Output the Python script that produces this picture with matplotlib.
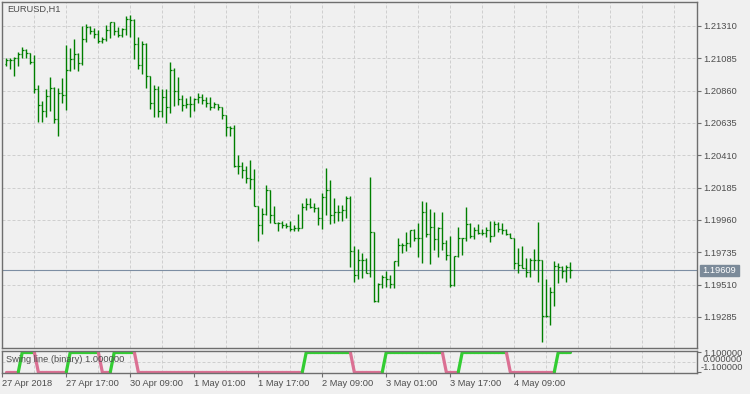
import numpy as np
import matplotlib
matplotlib.use('Agg')
import matplotlib.pyplot as plt
from matplotlib.collections import LineCollection
from matplotlib.patches import Rectangle

# EURUSD H1 bars, 27 Apr 2018 02:00 .. 4 May 2018 23:00
opens = [1.21044, 1.21073, 1.21073, 1.21085, 1.21115, 1.21143, 1.21120, 1.21062, 1.20874, 1.20758,
         1.20718, 1.20821, 1.20876, 1.20663, 1.20842, 1.20828, 1.21002, 1.21078, 1.21115, 1.21050,
         1.21220, 1.21301, 1.21277, 1.21252, 1.21208, 1.21220, 1.21282, 1.21336, 1.21273, 1.21245,
         1.21289, 1.21359, 1.21352, 1.21185, 1.21039, 1.21185, 1.20960, 1.20772, 1.20870, 1.20718,
         1.20814, 1.20748, 1.21002, 1.20858, 1.20800, 1.20760, 1.20769, 1.20769, 1.20800, 1.20814,
         1.20795, 1.20772, 1.20746, 1.20767, 1.20744, 1.20691, 1.20607, 1.20600, 1.20338, 1.20336,
         1.20306, 1.20250, 1.20245, 1.20057, 1.19923, 1.19999, 1.20169, 1.19995, 1.19937, 1.19937,
         1.19925, 1.19920, 1.19895, 1.19906, 1.19906, 1.20052, 1.20071, 1.20052, 1.20043, 1.19972,
         1.20118, 1.20169, 1.19995, 1.20018, 1.20018, 1.20029, 1.20111, 1.19746, 1.19577, 1.19681,
         1.19681, 1.19589, 1.19878, 1.19398, 1.19514, 1.19561, 1.19549, 1.19514, 1.19674, 1.19786,
         1.19786, 1.19802, 1.19890, 1.19837, 1.19837, 1.20013, 1.19862, 1.19909, 1.19826, 1.19902,
         1.19798, 1.19716, 1.19507, 1.19709, 1.19836, 1.19832, 1.19930, 1.19848, 1.19890, 1.19871,
         1.19871, 1.19890, 1.19848, 1.19930, 1.19895, 1.19893, 1.19860, 1.19837, 1.19658, 1.19647,
         1.19628, 1.19600, 1.19681, 1.19681, 1.19681, 1.19294, 1.19292, 1.19457, 1.19640, 1.19631,
         1.19605, 1.19631]
highs = [1.21089, 1.21089, 1.21094, 1.21127, 1.21162, 1.21150, 1.21120, 1.21108, 1.20897, 1.20788,
         1.20870, 1.20955, 1.20888, 1.20879, 1.20948, 1.21180, 1.21159, 1.21220, 1.21120, 1.21310,
         1.21322, 1.21310, 1.21294, 1.21282, 1.21231, 1.21317, 1.21336, 1.21336, 1.21301, 1.21294,
         1.21382, 1.21389, 1.21359, 1.21231, 1.21206, 1.21190, 1.20960, 1.20897, 1.20894, 1.20872,
         1.20870, 1.21060, 1.21020, 1.20955, 1.20830, 1.20811, 1.20823, 1.20807, 1.20842, 1.20835,
         1.20818, 1.20816, 1.20783, 1.20765, 1.20748, 1.20691, 1.20614, 1.20621, 1.20412, 1.20361,
         1.20336, 1.20377, 1.20315, 1.20057, 1.20041, 1.20203, 1.20169, 1.20057, 1.19948, 1.19953,
         1.19937, 1.19953, 1.19925, 1.19999, 1.20076, 1.20111, 1.20115, 1.20076, 1.20052, 1.20146,
         1.20324, 1.20238, 1.20111, 1.20064, 1.20064, 1.20127, 1.20127, 1.19779, 1.19756, 1.19728,
         1.19693, 1.20257, 1.19878, 1.19523, 1.19577, 1.19605, 1.19577, 1.19674, 1.19837, 1.19802,
         1.19874, 1.19890, 1.19897, 1.19937, 1.20092, 1.20083, 1.20034, 1.20013, 1.19913, 1.20013,
         1.19821, 1.19848, 1.19709, 1.19909, 1.19837, 1.20048, 1.19941, 1.19909, 1.19930, 1.19895,
         1.19909, 1.19955, 1.19955, 1.19944, 1.19937, 1.19895, 1.19871, 1.19837, 1.19763, 1.19779,
         1.19693, 1.19693, 1.19756, 1.19948, 1.19681, 1.19547, 1.19496, 1.19677, 1.19663, 1.19640,
         1.19647, 1.19670]
lows = [1.21034, 1.21009, 1.20964, 1.21034, 1.21085, 1.21089, 1.21044, 1.20842, 1.20644, 1.20644,
        1.20679, 1.20718, 1.20633, 1.20544, 1.20772, 1.20728, 1.21000, 1.21009, 1.20997, 1.21041,
        1.21201, 1.21252, 1.21224, 1.21190, 1.21194, 1.21206, 1.21224, 1.21247, 1.21236, 1.21231,
        1.21247, 1.21236, 1.21082, 1.21011, 1.20974, 1.20881, 1.20730, 1.20675, 1.20675, 1.20677,
        1.20637, 1.20707, 1.20753, 1.20760, 1.20720, 1.20737, 1.20675, 1.20718, 1.20776, 1.20767,
        1.20744, 1.20725, 1.20737, 1.20725, 1.20661, 1.20544, 1.20544, 1.20329, 1.20280, 1.20254,
        1.20219, 1.20173, 1.20057, 1.19816, 1.19860, 1.19995, 1.19937, 1.19937, 1.19885, 1.19906,
        1.19906, 1.19885, 1.19885, 1.19885, 1.19906, 1.20029, 1.20045, 1.20018, 1.19925, 1.19897,
        1.19995, 1.19930, 1.19937, 1.19953, 1.19953, 1.19972, 1.19635, 1.19530, 1.19547, 1.19554,
        1.19589, 1.19565, 1.19391, 1.19391, 1.19484, 1.19491, 1.19484, 1.19484, 1.19640, 1.19728,
        1.19744, 1.19770, 1.19816, 1.19704, 1.19663, 1.19844, 1.19652, 1.19751, 1.19704, 1.19751,
        1.19681, 1.19496, 1.19500, 1.19704, 1.19716, 1.19816, 1.19837, 1.19826, 1.19860, 1.19855,
        1.19839, 1.19809, 1.19845, 1.19878, 1.19860, 1.19855, 1.19832, 1.19617, 1.19589, 1.19628,
        1.19565, 1.19561, 1.19612, 1.19530, 1.19113, 1.19287, 1.19229, 1.19361, 1.19523, 1.19554,
        1.19530, 1.19554]
closes = [1.21073, 1.21073, 1.21085, 1.21115, 1.21143, 1.21120, 1.21062, 1.20874, 1.20758, 1.20718,
          1.20821, 1.20876, 1.20663, 1.20842, 1.20828, 1.21002, 1.21078, 1.21115, 1.21050, 1.21220,
          1.21301, 1.21277, 1.21252, 1.21208, 1.21220, 1.21282, 1.21336, 1.21273, 1.21245, 1.21289,
          1.21359, 1.21352, 1.21185, 1.21039, 1.21185, 1.20960, 1.20772, 1.20870, 1.20718, 1.20814,
          1.20748, 1.21002, 1.20858, 1.20800, 1.20760, 1.20769, 1.20769, 1.20800, 1.20814, 1.20795,
          1.20772, 1.20746, 1.20767, 1.20744, 1.20691, 1.20607, 1.20600, 1.20338, 1.20336, 1.20306,
          1.20250, 1.20245, 1.20057, 1.19923, 1.19999, 1.20169, 1.19995, 1.19937, 1.19937, 1.19925,
          1.19920, 1.19895, 1.19906, 1.19906, 1.20052, 1.20071, 1.20052, 1.20043, 1.19972, 1.20118,
          1.20169, 1.19995, 1.20018, 1.20018, 1.20029, 1.20111, 1.19746, 1.19577, 1.19681, 1.19681,
          1.19589, 1.19878, 1.19398, 1.19514, 1.19561, 1.19549, 1.19514, 1.19674, 1.19786, 1.19786,
          1.19802, 1.19890, 1.19837, 1.19837, 1.20013, 1.19862, 1.19909, 1.19826, 1.19902, 1.19798,
          1.19716, 1.19507, 1.19709, 1.19836, 1.19832, 1.19930, 1.19848, 1.19890, 1.19871, 1.19871,
          1.19890, 1.19848, 1.19930, 1.19895, 1.19893, 1.19860, 1.19837, 1.19658, 1.19647, 1.19628,
          1.19600, 1.19681, 1.19681, 1.19681, 1.19294, 1.19292, 1.19457, 1.19640, 1.19631, 1.19605,
          1.19631, 1.19609]

# Swing line (binary): +1 / -1 per bar
swing = [-1, -1, -1, -1, 1, 1, 1, 1, -1, -1, -1, -1, -1, -1, -1, -1, 1, 1, 1, 1,
         1, 1, 1, 1, -1, -1, -1, 1, 1, 1, 1, 1, 1, -1, -1, -1, -1, -1, -1, -1,
         -1, -1, -1, -1, -1, -1, -1, -1, -1, -1, -1, -1, -1, -1, -1, -1, -1, -1, -1, -1,
         -1, -1, -1, -1, -1, -1, -1, -1, -1, -1, -1, -1, -1, -1, -1, 1, 1, 1, 1, 1,
         1, 1, 1, 1, 1, 1, 1, -1, -1, -1, -1, -1, -1, -1, -1, 1, 1, 1, 1, 1,
         1, 1, 1, 1, 1, 1, 1, 1, 1, 1, -1, -1, -1, -1, 1, 1, 1, 1, 1, 1,
         1, 1, 1, 1, 1, 1, -1, -1, -1, -1, -1, -1, -1, -1, -1, -1, -1, -1, 1, 1,
         1, 1]

price_ticks = [1.19285, 1.19510, 1.19735, 1.19960, 1.20185, 1.20410, 1.20635, 1.20860, 1.21085, 1.21310]
time_pos = [-1, 15, 31, 47, 63, 79, 95, 111, 127]
time_labels = ['27 Apr 2018', '27 Apr 17:00', '30 Apr 09:00', '1 May 01:00', '1 May 17:00',
               '2 May 09:00', '3 May 01:00', '3 May 17:00', '4 May 09:00']

BG = '#f0f0f0'
GRID = '#cfcfcf'
SPINE = '#6e6e6e'
TXT = '#4d4d4d'
GREEN = '#007f00'
LIME = '#32cd32'
PINK = '#db7093'
PLINE = '#7d8ea3'
FS = 6.7

plt.rcParams['font.family'] = ['Liberation Sans', 'DejaVu Sans']

W, H = 750, 394
fig = plt.figure(figsize=(7.5, 3.94), dpi=100, facecolor=BG)


def box(x0, y0, x1, y1):
    return [x0 / W, 1 - y1 / H, (x1 - x0) / W, (y1 - y0) / H]


ax = fig.add_axes(box(2, 2, 697, 348), facecolor=BG)
axs = fig.add_axes(box(2, 351, 697, 373), facecolor=BG)
xlim = (-1.075, 172.675)
grid_x = np.arange(7, 172, 8)
dash = (0, (3, 2))

# price bars
x = np.arange(len(closes))
ax.vlines(x, lows, highs, color=GREEN, lw=1.0)
ax.hlines(opens, x - 0.45, x, color=GREEN, lw=0.9)
ax.hlines(closes, x, x + 0.45, color=GREEN, lw=0.9)
ax.axhline(closes[-1], color=PLINE, lw=0.8, zorder=1)

ax.set_xlim(*xlim)
ax.set_ylim(1.19069, 1.21477)
ax.set_xticks(grid_x)
ax.set_yticks(price_ticks)
ax.set_yticklabels(['%.5f' % v for v in price_ticks])
ax.yaxis.tick_right()
ax.tick_params(axis='x', length=0, labelbottom=False)
ax.tick_params(axis='y', length=2.9, width=0.8, color=SPINE, labelsize=FS, labelcolor=TXT, pad=1.5)
ax.grid(True, color=GRID, lw=0.72, linestyle=dash, zorder=0)
ax.set_axisbelow(True)

# swing line sub-window
pts = np.column_stack([x, swing])
segs = np.stack([pts[:-1], pts[1:]], axis=1)
cols = [LIME if v > 0 else PINK for v in swing[1:]]
axs.add_collection(LineCollection(segs, colors=cols, linewidths=2.3, capstyle='round'))
axs.set_xlim(*xlim)
axs.set_ylim(-1.1, 1.1)
axs.set_yticks([-1, 1])
axs.set_yticklabels([])
axs.yaxis.tick_right()
axs.tick_params(axis='y', length=2.9, width=0.8, color=SPINE)
axs.set_xticks(time_pos)
axs.set_xticklabels(time_labels, ha='left')
axs.set_xticks(grid_x, minor=True)
axs.xaxis.remove_overlapping_locs = False
axs.tick_params(axis='x', which='major', length=3, width=0.8, color=SPINE,
                labelsize=FS, labelcolor=TXT, pad=1.5)
axs.tick_params(axis='x', which='minor', length=0)
axs.grid(True, which='minor', axis='x', color=GRID, lw=0.72, linestyle=dash, zorder=0)
axs.axhline(0, color=GRID, lw=0.72, linestyle=dash, zorder=0)
axs.set_axisbelow(True)

for a in (ax, axs):
    for s in a.spines.values():
        s.set_color(SPINE)
        s.set_linewidth(1.0)

fig.text(7 / W, 1 - 9.5 / H, 'EURUSD,H1', fontsize=FS, color=TXT, va='center', ha='left')
fig.text(6 / W, 1 - 360 / H, 'Swing line (binary) 1.000000', fontsize=FS, color=TXT,
         va='center', ha='left')
# scale labels of the sub-window sit on top of each other, as in the terminal
fig.text(703 / W, 1 - 354 / H, '1.100000', fontsize=FS, color=TXT, va='center', ha='left')
fig.text(703 / W, 1 - 360 / H, '0.000000', fontsize=FS, color=TXT, va='center', ha='left')
fig.text(701 / W, 1 - 367.5 / H, '-1.100000', fontsize=FS, color=TXT, va='center', ha='left')

# current price tag
fig.patches.append(Rectangle((700 / W, 1 - 276 / H), 39 / W, 11 / H,
                             transform=fig.transFigure, color='#7b8a99'))
fig.text(719.5 / W, 1 - 270.5 / H, '%.5f' % closes[-1], fontsize=FS, color='white',
         va='center', ha='center')

fig.savefig('out.png', dpi=100, facecolor=BG)
